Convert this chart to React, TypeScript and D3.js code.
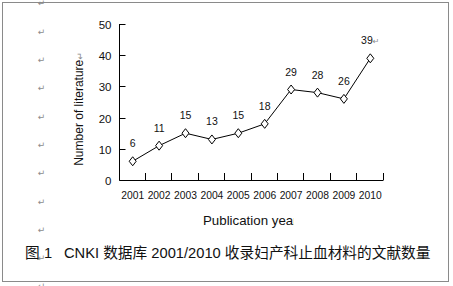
import * as d3 from 'd3'
import { useEffect, useRef } from "react";

// chart data
const years = ['2001', '2002', '2003', '2004', '2005', '2006', '2007', '2008', '2009', '2010'];
const counts = [6, 11, 15, 13, 15, 18, 29, 28, 26, 39];
const yTicks = [0, 10, 20, 30, 40, 50];
const markRows = [0, 1, 2, 3, 4, 5, 6, 7, 8, 9, 10];

const latin = "'Liberation Sans', Arial, sans-serif";
const cjk = "'Liberation Sans', Arial, 'Noto Sans CJK SC', sans-serif";

export default function App() {
    const svgRef = useRef(null);

    const width = 453, height = 286;
    const plot = {left: 119.5, right: 383.5, top: 24, bottom: 180};

    useEffect(() => {
        const svg = d3.select(svgRef.current);
        svg.selectAll("*").remove();

        const x = d3.scaleBand().domain(years).range([plot.left, plot.right]);
        const y = d3.scaleLinear().domain([0, 50]).range([plot.bottom, plot.top]);
        const rowY = d3.scaleLinear().domain([0, 10]).range([3.3, 286.3]);

        // outer frame
        svg.append("rect")
            .attr("x", 2.5).attr("y", 2.5)
            .attr("width", 446).attr("height", 279)
            .attr("fill", "none")
            .attr("stroke", "#8a8a8a")
            .attr("stroke-width", 1);

        // paragraph marks down the left
        svg.append("g").selectAll("text")
            .data(markRows)
            .enter().append("text")
            .attr("x", 41.5)
            .attr("y", d => rowY(d))
            .attr("dy", "0.35em")
            .attr("text-anchor", "middle")
            .style("font-family", "'DejaVu Sans', sans-serif")
            .style("font-size", "9px")
            .attr("fill", "#8c8c8c")
            .text("↵");

        // axes
        const axes = svg.append("g").attr("stroke", "#000").attr("stroke-width", 1).attr("fill", "none");
        axes.append("line")
            .attr("x1", plot.left).attr("x2", plot.left)
            .attr("y1", plot.top).attr("y2", plot.bottom + 0.5);
        axes.append("line")
            .attr("x1", plot.left).attr("x2", plot.right)
            .attr("y1", plot.bottom + 0.5).attr("y2", plot.bottom + 0.5);

        // y ticks (inside)
        axes.selectAll(".ytick")
            .data(yTicks)
            .enter().append("line")
            .attr("class", "ytick")
            .attr("x1", plot.left).attr("x2", plot.left + 6)
            .attr("y1", d => Math.round(y(d)) + 0.5)
            .attr("y2", d => Math.round(y(d)) + 0.5);

        // x ticks at band edges (inside)
        const edges = years.map(d => x(d)).concat([plot.right]);
        axes.selectAll(".xtick")
            .data(edges)
            .enter().append("line")
            .attr("class", "xtick")
            .attr("x1", d => Math.round(d) - 0.5).attr("x2", d => Math.round(d) - 0.5)
            .attr("y1", plot.bottom).attr("y2", plot.bottom - 7);

        svg.append("g").selectAll("text")
            .data(yTicks)
            .enter().append("text")
            .attr("x", 111.5)
            .attr("y", d => y(d) + 5)
            .attr("text-anchor", "end")
            .style("font-family", latin)
            .style("font-size", "11.5px")
            .attr("fill", "#111")
            .text(d => d);

        svg.append("g").selectAll("text")
            .data(years)
            .enter().append("text")
            .attr("x", d => x(d) + x.bandwidth() / 2)
            .attr("y", 199)
            .attr("text-anchor", "middle")
            .style("font-family", latin)
            .style("font-size", "10.3px")
            .attr("fill", "#111")
            .text(d => d);

        // line + diamond markers
        const pts = years.map((d, i) => [x(d) + x.bandwidth() / 2, y(counts[i])]);
        svg.append("path")
            .attr("d", d3.line()(pts))
            .attr("fill", "none")
            .attr("stroke", "#000")
            .attr("stroke-width", 1);

        svg.append("g").selectAll("path")
            .data(pts)
            .enter().append("path")
            .attr("d", d => `M${d[0]},${d[1] - 4.5}L${d[0] + 3.5},${d[1]}L${d[0]},${d[1] + 4.5}L${d[0] - 3.5},${d[1]}Z`)
            .attr("fill", "#fff")
            .attr("stroke", "#000")
            .attr("stroke-width", 1);

        // data labels
        const labels = svg.append("g").selectAll("text")
            .data(pts)
            .enter().append("text")
            .attr("x", d => d[0])
            .attr("y", d => d[1] - 14)
            .attr("text-anchor", "middle")
            .style("font-family", latin)
            .style("font-size", "10.5px")
            .attr("fill", "#111")
            .text((d, i) => counts[i]);
        labels.filter((d, i) => i === 9)
            .append("tspan")
            .style("font-family", "'DejaVu Sans', sans-serif")
            .style("font-size", "8px")
            .attr("fill", "#8c8c8c")
            .text("↵");

        // axis titles
        const yTitle = svg.append("text")
            .attr("transform", "translate(83,109) rotate(-90)")
            .attr("text-anchor", "middle")
            .style("font-family", latin)
            .style("font-size", "12px")
            .attr("fill", "#111")
            .text("Number of literature");
        yTitle.append("tspan")
            .style("font-family", "'DejaVu Sans', sans-serif")
            .style("font-size", "9px")
            .attr("fill", "#8c8c8c")
            .text("↵");

        // the title's last letter is cut by the chart area, as in the source
        svg.append("clipPath").attr("id", "xtitle-clip")
            .append("rect").attr("x", 150).attr("y", 200).attr("width", 144).attr("height", 40);
        svg.append("text")
            .attr("x", 203)
            .attr("y", 225)
            .attr("clip-path", "url(#xtitle-clip)")
            .style("font-family", latin)
            .style("font-size", "13.3px")
            .attr("fill", "#111")
            .text("Publication year");

        // caption
        const cap = svg.append("g")
            .style("font-family", cjk)
            .style("font-size", "14.7px")
            .attr("fill", "#111");
        cap.append("text").attr("x", 25).attr("y", 258).text("图");
        cap.append("text").attr("x", 44).attr("y", 258).text("1");
        cap.append("text").attr("x", 64).attr("y", 258).text("CNKI 数据库 2001/2010 收录妇产科止血材料的文献数量");
    }, []);

    return (
        <svg
            ref={svgRef}
            width={width}
            height={height}
            style={{position: "absolute", left: 0, top: 0, background: "#fff"}}
        />
    );
}
